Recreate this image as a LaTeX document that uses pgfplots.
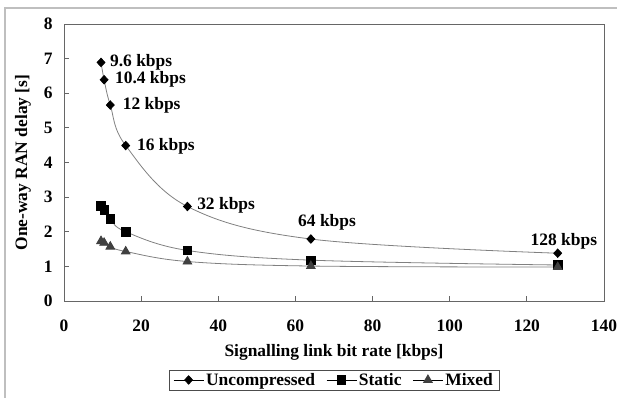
\documentclass[border=0pt]{standalone}
\usepackage{pgfplots}
\pgfplotsset{compat=1.18}
\usepackage{fontspec}
\setmainfont{Liberation Serif}
\begin{document}
\begin{tikzpicture}[x=1bp,y=1bp]
\def\fs{\fontsize{17.5}{20}\selectfont\bfseries}
\begin{axis}[
  at={(64bp,-301bp)}, anchor=south west,
  scale only axis, width=540bp, height=277bp,
  xmin=0, xmax=140, ymin=0, ymax=8,
  xtick={0,20,...,140}, ytick={0,1,...,8},
  tick align=inside, xtick pos=bottom, ytick pos=left,
  major tick length=5bp,
  axis line style={black!60, line width=0.8bp},
  tick style={black!60, line width=0.8bp},
  /pgf/number format/assume math mode=true,
  ticklabel style={font=\fs},
  xticklabel style={yshift=-15bp},
  yticklabel style={xshift=-8bp},
  xlabel={Signalling link bit rate [kbps]},
  ylabel={One-way RAN delay [s]},
  label style={font=\fs},
  xlabel style={at={(axis description cs:0.5,-0.184)}, anchor=center},
  ylabel style={at={(axis description cs:-0.076,0.5)}, anchor=center, rotate=0},
  legend columns=3,
  legend style={at={(axis description cs:0.5,-0.285)}, anchor=center,
    draw=black!70, font=\fs, inner xsep=4bp, inner ysep=1bp,
    /tikz/every even column/.append style={column sep=9bp}},
  legend image code/.code={
    \draw[#1, black] (0bp,0bp) -- (30bp,0bp);
    \draw[#1, black, only marks] plot coordinates {(15bp,0bp)};},
]
\addplot[gray, line width=0.8bp, smooth, tension=0.6, mark=diamond*, mark size=4.2bp,
  mark options={black, fill=black, solid, xscale=1.25}] coordinates {
  (9.6,6.89) (10.4,6.39) (12,5.66) (16,4.49) (32,2.73) (64,1.79) (128,1.38)};
\addlegendentry{Uncompressed}
\addplot[gray, line width=0.8bp, smooth, tension=0.6, mark=square*, mark size=4.2bp,
  mark options={black, fill=black, solid}] coordinates {
  (9.6,2.75) (10.4,2.63) (12,2.37) (16,2.0) (32,1.46) (64,1.18) (128,1.04)};
\addlegendentry{Static}
\addplot[gray, line width=0.8bp, smooth, tension=0.6, mark=triangle*, mark size=5bp,
  mark options={black!75, fill=black!75, solid}] coordinates {
  (9.6,1.73) (10.4,1.68) (12,1.57) (16,1.43) (32,1.14) (64,1.01) (128,0.98)};
\addlegendentry{Mixed}
\node[font=\fs, anchor=west, inner sep=0pt] at (axis cs:11.9,6.89) {9.6 kbps};
\node[font=\fs, anchor=west, inner sep=0pt] at (axis cs:13.2,6.39) {10.4 kbps};
\node[font=\fs, anchor=west, inner sep=0pt] at (axis cs:15.2,5.64) {12 kbps};
\node[font=\fs, anchor=west, inner sep=0pt] at (axis cs:18.9,4.48) {16 kbps};
\node[font=\fs, anchor=west, inner sep=0pt] at (axis cs:34.5,2.77) {32 kbps};
\node[font=\fs, anchor=center, inner sep=0pt] at (axis cs:68.2,2.26) {64 kbps};
\node[font=\fs, anchor=center, inner sep=0pt] at (axis cs:129.6,1.71) {128 kbps};
\end{axis}
\draw[black!25, line width=2bp] (5bp,-398bp) -- (5bp,-8bp) -- (617bp,-8bp);
\pgfresetboundingbox
\path[use as bounding box] (0,0) rectangle (617bp,-398bp);
\end{tikzpicture}
\end{document}
